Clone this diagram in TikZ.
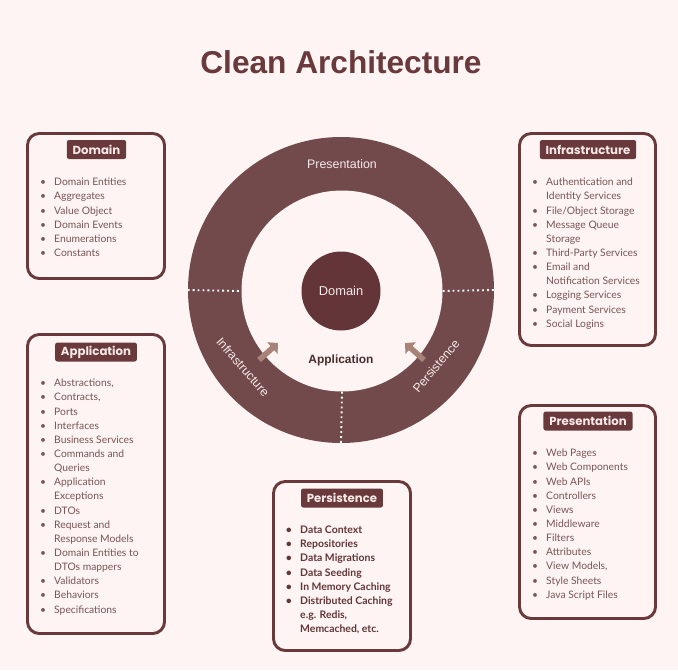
\documentclass[tikz,border=0pt]{standalone}
\usepackage{fontspec}
\setmainfont{Lato}
\newfontfamily\headfont{Poppins}
\newfontfamily\ringfont{Liberation Sans}
\usetikzlibrary{positioning, arrows.meta}

\definecolor{bgpink}{HTML}{FDF4F3}
\definecolor{ringbrown}{HTML}{724A4B}
\definecolor{corebrown}{HTML}{633538}
\definecolor{boxbrown}{HTML}{6A393B}
\definecolor{itemtxt}{HTML}{7A5456}
\definecolor{arrowtan}{HTML}{A88377}
\definecolor{ringtxt}{HTML}{F6E9E7}
\definecolor{apptxt}{HTML}{4A2C2E}

\tikzset{
  panel/.style={draw=boxbrown, line width=2.5pt, rounded corners=10pt, fill=bgpink},
  head/.style={fill=boxbrown, text=ringtxt, rounded corners=2pt, minimum height=0.57cm, inner xsep=5pt, inner ysep=0pt, font=\headfont\bfseries\fontsize{10}{12}\selectfont},
  items/.style={anchor=north west, inner sep=0pt, align=left, text=itemtxt, font=\fontsize{8.8}{12.07}\selectfont},
  persitems/.style={items, text=corebrown, font=\bfseries\fontsize{8.9}{12}\selectfont},
  ringlbl/.style={text=ringtxt, font=\ringfont\fontsize{10.6}{12}\selectfont},
  dots/.style={white, line width=1.6pt, dash pattern=on 1.6pt off 2.6pt},
  push/.style={arrowtan, line width=4.8pt, -{Triangle[length=6.5pt, width=13pt]}}
}
\newcommand\bul{\makebox[0pt][r]{\textbullet\hspace{7pt}}}

\begin{document}
\begin{tikzpicture}[x=0.03cm, y=-0.03cm]
  \fill[bgpink] (0,0) rectangle (678,670);
  \node[font=\ringfont\bfseries\fontsize{27}{30}\selectfont, text=boxbrown] (title) at (341,62) {Clean Architecture};

  % the rings
  \node[circle, fill=ringbrown, minimum size=9.18cm, inner sep=0pt] (outer) at (341,290) {};
  \node[circle, fill=bgpink, minimum size=6.03cm, inner sep=0pt] (inner) at (342,291) {};
  \node[circle, fill=corebrown, minimum size=2.37cm, inner sep=0pt, ringlbl, font=\ringfont\fontsize{11}{12}\selectfont] (core) at (341,291) {Domain};

  \draw[dots] (outer.west) -- (inner.west);
  \draw[dots] (inner.east) -- (outer.east);
  \draw[dots] (inner.south) -- (outer.south);

  \node[ringlbl] (presl) at (342,164) {Presentation};
  \node[ringlbl, rotate=-49] (infl) at (243,367) {Infrastructure};
  \node[ringlbl, rotate=50] (persl) at (436,366) {Persistence};
  \node[font=\ringfont\bfseries\fontsize{10.2}{12}\selectfont, text=apptxt] (app) at (341,360) {Application};

  \coordinate (la) at (259,360);
  \coordinate (lb) at (278,343);
  \coordinate (ra) at (424,360);
  \coordinate (rb) at (405,343);
  \draw[push] (la) -- (lb);
  \draw[push] (ra) -- (rb);

  % Domain
  \node[panel, minimum width=4.11cm, minimum height=4.35cm] (dom) at (96,206) {};
  \node[head] (domh) at (96.5,149.5) {Domain};
  \node[items] (domi) at (54,178) {\bul Domain Entities\\ \bul Aggregates\\ \bul Value Object\\ \bul Domain Events\\ \bul Enumerations\\ \bul Constants};

  % Infrastructure
  \node[panel, minimum width=4.08cm, minimum height=6.36cm] (inf) at (587.5,239.5) {};
  \node[head] (infh) at (588,149.5) {Infrastructure};
  \node[items] (infi) at (546,178) {\bul Authentication and\\ Identity Services\\ \bul File/Object Storage\\ \bul Message Queue\\ Storage\\ \bul Third-Party Services\\ \bul Email and\\ Notification Services\\ \bul Logging Services\\ \bul Payment Services\\ \bul Social Logins};

  % Application
  \node[panel, minimum width=4.11cm, minimum height=8.97cm] (apl) at (96,484) {};
  \node[head] (aplh) at (96,352) {Application};
  \node[items] (apli) at (54,379) {\bul Abstractions,\\ \bul Contracts,\\ \bul Ports\\ \bul Interfaces\\ \bul Business Services\\ \bul Commands and\\ Queries\\ \bul Application\\ Exceptions\\ \bul DTOs\\ \bul Request and\\ Response Models\\ \bul Domain Entities to\\ DTOs mappers\\ \bul Validators\\ \bul Behaviors\\ \bul Specifications};

  % Presentation
  \node[panel, minimum width=4.08cm, minimum height=6.39cm] (prs) at (587.5,512) {};
  \node[head] (prsh) at (588,421) {Presentation};
  \node[items] (prsi) at (546,449) {\bul Web Pages\\ \bul Web Components\\ \bul Web APIs\\ \bul Controllers\\ \bul Views\\ \bul Middleware\\ \bul Filters\\ \bul Attributes\\ \bul View Models,\\ \bul Style Sheets\\ \bul Java Script Files};

  % Persistence
  \node[panel, minimum width=4.11cm, minimum height=5.07cm] (per) at (342,566) {};
  \node[head] (perh) at (342,498) {Persistence};
  \node[persitems] (peri) at (300,526) {\bul Data Context\\ \bul Repositories\\ \bul Data Migrations\\ \bul Data Seeding\\ \bul In Memory Caching\\ \bul Distributed Caching\\ e.g. Redis,\\ Memcached, etc.};
\end{tikzpicture}
\end{document}
